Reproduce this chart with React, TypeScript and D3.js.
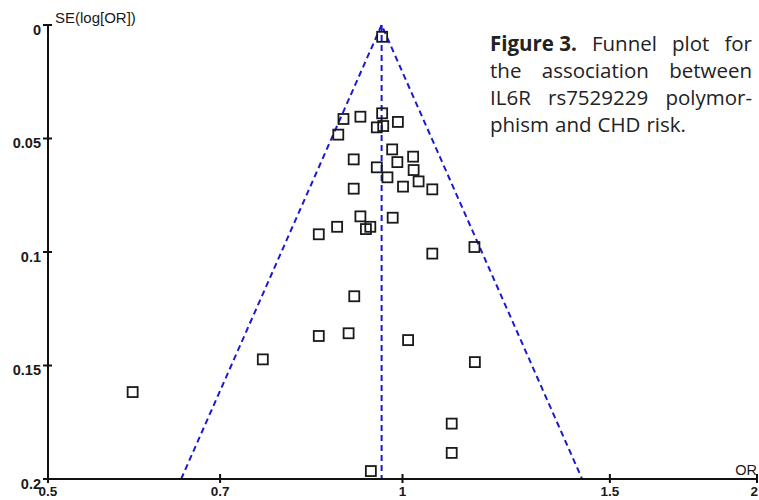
import React, { useEffect, useRef } from "react";
import * as d3 from "d3";

// study estimates: odds ratio and standard error of log(OR)
const studyOR = [
  0.961, 0.891, 0.921, 0.961, 0.951, 0.963, 0.991, 0.882, 0.98, 0.909, 1.021, 0.99,
  0.951, 1.022, 0.971, 1.032, 1.001, 1.06, 0.909, 0.921, 0.981, 0.88, 0.939, 0.931,
  0.849, 1.151, 1.06, 0.91, 0.849, 0.9, 1.011, 0.761, 1.152, 0.59, 1.101, 1.101, 0.94,
];
const studySE = [
  0.0052, 0.0414, 0.0404, 0.0389, 0.0451, 0.0445, 0.0427, 0.0483, 0.0548, 0.0592, 0.058,
  0.0604, 0.0627, 0.0639, 0.0671, 0.0689, 0.0712, 0.0724, 0.0721, 0.0843, 0.0849, 0.0889,
  0.0889, 0.0899, 0.0922, 0.0978, 0.1007, 0.1195, 0.137, 0.1358, 0.1388, 0.1473, 0.1485,
  0.1617, 0.1756, 0.1885, 0.1965,
];
const pooledOR = 0.96;
const xTicks = [0.5, 0.7, 1, 1.5, 2];
const yTicks = [0, 0.05, 0.1, 0.15, 0.2];
const captionLines = [
  ["Figure 3.", "Funnel", "plot", "for"],
  ["the", "association", "between"],
  ["IL6R", "rs7529229", "polymor-"],
  ["phism", "and", "CHD", "risk."],
];

const W = 759;
const H = 500;

export default function App() {
  const ref = useRef<SVGSVGElement>(null);

  useEffect(() => {
    const svg = d3.select(ref.current);
    svg.selectAll("*").remove();

    const x = d3.scaleLog().domain([0.5, 2]).range([48, 757]);
    const y = d3.scaleLinear().domain([0, 0.2]).range([25, 479]);

    // funnel (pseudo 95% limits) and pooled line
    const seMax = 0.2;
    const funnel = [
      [pooledOR * Math.exp(-1.96 * seMax), seMax],
      [pooledOR, 0],
      [pooledOR * Math.exp(1.96 * seMax), seMax],
    ];
    const line = d3
      .line<number[]>()
      .x((d) => x(d[0]))
      .y((d) => y(d[1]));
    svg
      .append("path")
      .attr("d", line(funnel))
      .attr("fill", "none")
      .attr("stroke", "#1a1ad0")
      .attr("stroke-width", 2)
      .attr("stroke-dasharray", "6,4");
    svg
      .append("path")
      .attr("d", line([[pooledOR, 0], [pooledOR, seMax]]))
      .attr("fill", "none")
      .attr("stroke", "#1a1ad0")
      .attr("stroke-width", 2)
      .attr("stroke-dasharray", "6,4");

    // axes
    const axisG = svg.append("g").attr("stroke", "#111").attr("stroke-width", 2);
    axisG.append("line").attr("x1", x(0.5)).attr("x2", x(0.5)).attr("y1", y(0)).attr("y2", y(0.2));
    axisG.append("line").attr("x1", x(0.5)).attr("x2", x(2)).attr("y1", y(0.2)).attr("y2", y(0.2));
    axisG
      .selectAll(".yt")
      .data(yTicks)
      .enter()
      .append("line")
      .attr("x1", x(0.5) - 5)
      .attr("x2", x(0.5) + 4)
      .attr("y1", (d) => y(d))
      .attr("y2", (d) => y(d));
    axisG
      .selectAll(".xt")
      .data(xTicks)
      .enter()
      .append("line")
      .attr("x1", (d) => x(d))
      .attr("x2", (d) => x(d))
      .attr("y1", y(0.2) - 5)
      .attr("y2", y(0.2) + 4);

    const labelFont = "'Liberation Sans', Arial, sans-serif";
    svg
      .selectAll(".yl")
      .data(yTicks)
      .enter()
      .append("text")
      .attr("x", x(0.5) - 7)
      .attr("y", (d) => y(d) + 9.5)
      .attr("text-anchor", "end")
      .attr("font-family", labelFont)
      .attr("font-weight", "bold")
      .attr("font-size", 14.5)
      .attr("fill", "#1a1a1a")
      .text((d) => String(d));
    svg
      .selectAll(".xl")
      .data(xTicks)
      .enter()
      .append("text")
      .attr("x", (d) => (d === 2 ? x(d) + 1 : x(d)))
      .attr("y", 496)
      .attr("text-anchor", (d) => (d === 2 ? "end" : "middle"))
      .attr("font-family", labelFont)
      .attr("font-weight", "bold")
      .attr("font-size", 13.5)
      .attr("fill", "#1a1a1a")
      .text((d) => String(d));
    svg
      .append("text")
      .attr("x", 55)
      .attr("y", 23)
      .attr("font-family", labelFont)
      .attr("font-size", 15)
      .attr("fill", "#1a1a1a")
      .text("SE(log[OR])");
    svg
      .append("text")
      .attr("x", 757)
      .attr("y", 475)
      .attr("text-anchor", "end")
      .attr("font-family", labelFont)
      .attr("font-size", 14.5)
      .attr("fill", "#1a1a1a")
      .text("OR");

    // studies
    const s = 10;
    svg
      .append("g")
      .selectAll("rect")
      .data(studyOR.map((or, i) => ({ or, se: studySE[i] })))
      .enter()
      .append("rect")
      .attr("x", (d) => x(d.or) - s / 2)
      .attr("y", (d) => y(d.se) - s / 2)
      .attr("width", s)
      .attr("height", s)
      .attr("fill", "none")
      .attr("stroke", "#1a1a1a")
      .attr("stroke-width", 1.8);

    // justified caption
    const left = 490;
    const right = 752;
    const cap = svg
      .append("g")
      .attr("font-family", "'Open Sans', 'DejaVu Sans', sans-serif")
      .attr("font-size", 20.5)
      .attr("fill", "#222");
    captionLines.forEach((words, li) => {
      const base = 51 + li * 27;
      const nodes = words.map((w, wi) =>
        cap
          .append("text")
          .attr("y", base)
          .attr("font-weight", li === 0 && wi === 0 ? "bold" : "normal")
          .text(w)
      );
      const widths = nodes.map((n) => (n.node() as SVGTextElement).getComputedTextLength());
      const total = d3.sum(widths);
      const last = li === captionLines.length - 1;
      const gap = last ? 6 : (right - left - total) / (words.length - 1);
      let cx = left;
      nodes.forEach((n, i) => {
        n.attr("x", cx);
        cx += widths[i] + gap;
      });
    });
  }, []);

  return (
    <svg
      ref={ref}
      width={W}
      height={H}
      style={{ position: "absolute", left: 0, top: 0, background: "#fff" }}
    />
  );
}
